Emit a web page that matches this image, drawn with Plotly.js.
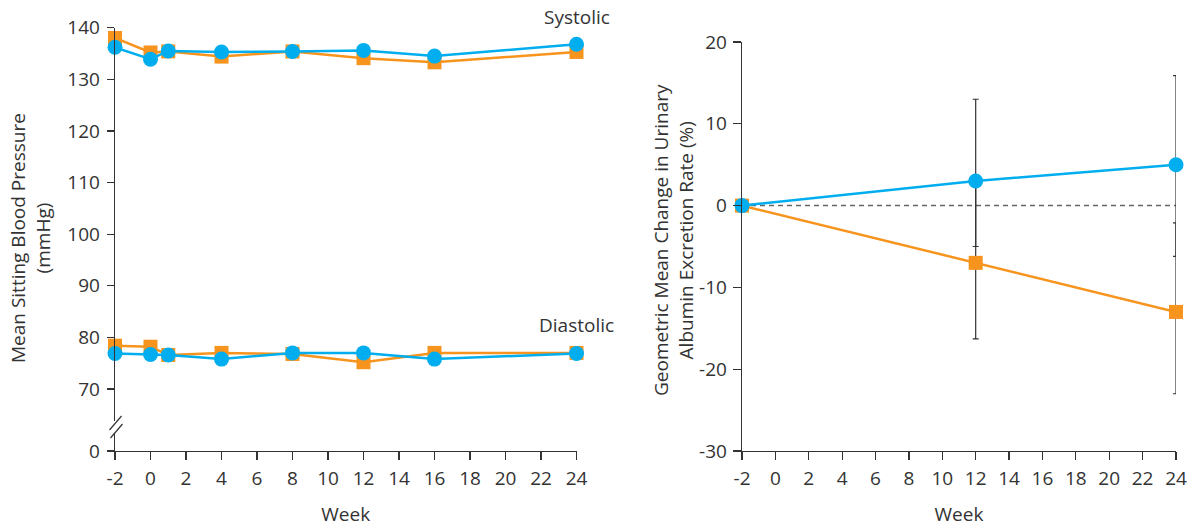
<!DOCTYPE html>
<html>
<head>
<meta charset="utf-8">
<script src="https://cdn.plot.ly/plotly-3.0.1.min.js"></script>
<style>html,body{margin:0;padding:0;background:#fff;}#chart{width:1196px;height:527px;}</style>
</head>
<body>
<div id="chart"></div>
<script>
// ---- Data ----
var bpWeeks = [-2, 0, 1, 4, 8, 12, 16, 24];
var systolicOrange = [138.0, 135.2, 135.4, 134.4, 135.4, 134.1, 133.3, 135.3];
var systolicBlue   = [136.2, 133.9, 135.5, 135.3, 135.4, 135.6, 134.5, 136.8];
var diastolicOrange = [78.4, 78.2, 76.6, 77.0, 76.8, 75.2, 77.0, 77.0];
var diastolicBlue   = [76.9, 76.7, 76.6, 75.8, 77.0, 77.0, 75.8, 76.9];

var uaerWeeks = [-2, 12, 24];
var uaerBlue = [0, 3, 5];
var uaerBlueUpper = [0, 10, 10.9];
var uaerBlueLower = [0, 8, 11.2];
var uaerOrange = [0, -7, -13];
var uaerOrangeUpper = [0, 10, 10.9];
var uaerOrangeLower = [0, 9.3, 10];

var xTicks = [-2, 0, 2, 4, 6, 8, 10, 12, 14, 16, 18, 20, 22, 24];
var xTickText = ["-2", "0", "2", "4", "6", "8", "10", "12", "14", "16", "18", "20", "22", "24"];
var bpTickVals = [58, 70, 80, 90, 100, 110, 120, 130, 140];
var bpTickText = ["0", "70", "80", "90", "100", "110", "120", "130", "140"];
var uaerTicks = [-30, -20, -10, 0, 10, 20];
var uaerTickText = ["-30", "-20", "-10", "0", "10", "20"];

// ---- Styles ----
var ORANGE = '#F7941D', BLUE = '#00AEEF', INK = '#333333';
var FONT = '"Open Sans", Lato, sans-serif';
var FS = 19;

function lineTrace(x, y, color, symbol, xa, ya, size) {
  return {x: x, y: y, xaxis: xa, yaxis: ya, type: 'scatter', mode: 'lines+markers',
    line: {color: color, width: 2.5},
    marker: {color: color, symbol: symbol, size: size},
    cliponaxis: false, hoverinfo: 'skip'};
}

var traces = [
  lineTrace(bpWeeks, systolicOrange, ORANGE, 'square', 'x', 'y', 14),
  lineTrace(bpWeeks, diastolicOrange, ORANGE, 'square', 'x', 'y', 14),
  lineTrace(bpWeeks, systolicBlue, BLUE, 'circle', 'x', 'y', 15),
  lineTrace(bpWeeks, diastolicBlue, BLUE, 'circle', 'x', 'y', 15)
];

var zeroTrace = {x: [xTicks[0], xTicks[xTicks.length - 1]], y: [0, 0], xaxis: 'x2', yaxis: 'y2',
  type: 'scatter', mode: 'lines', line: {color: '#666', width: 1.5, dash: '5px,4px'}, hoverinfo: 'skip'};
traces.push(zeroTrace);

var o = lineTrace(uaerWeeks, uaerOrange, ORANGE, 'square', 'x2', 'y2', 14);
o.error_y = {type: 'data', symmetric: false, array: uaerOrangeUpper, arrayminus: uaerOrangeLower,
  color: INK, thickness: 1.2, width: 3};
var b = lineTrace(uaerWeeks, uaerBlue, BLUE, 'circle', 'x2', 'y2', 15);
b.error_y = {type: 'data', symmetric: false, array: uaerBlueUpper, arrayminus: uaerBlueLower,
  color: INK, thickness: 1.2, width: 3};
traces.push(o, b);

function px(xp) { return xp / 1196; }
function py(yp) { return (527 - yp) / 527; }

var axisCommon = {showgrid: false, zeroline: false, showline: true, linecolor: INK, linewidth: 1.3,
  ticks: 'outside', ticklen: 8, tickwidth: 1.3, tickcolor: INK,
  tickfont: {family: FONT, size: FS, color: INK}, automargin: false, fixedrange: true};

var layout = {
  width: 1196, height: 527,
  margin: {l: 0, r: 0, t: 0, b: 0},
  paper_bgcolor: '#fff', plot_bgcolor: '#fff',
  showlegend: false,
  font: {family: FONT, color: INK},
  xaxis: Object.assign({}, axisCommon, {domain: [px(115), px(576.5)], range: [-2, 24],
    tickvals: xTicks, ticktext: xTickText, anchor: 'y', ticklabelstandoff: 2,
    title: {text: 'Week', font: {family: FONT, size: FS, color: INK}, standoff: 19}}),
  yaxis: Object.assign({}, axisCommon, {domain: [py(451), py(27.7)], range: [58, 140],
    tickvals: bpTickVals, ticktext: bpTickText, ticklen: 7, anchor: 'x', ticklabelstandoff: 3}),
  xaxis2: Object.assign({}, axisCommon, {domain: [px(742), px(1176)], range: [-2, 24],
    tickvals: xTicks, ticktext: xTickText, anchor: 'y2', ticklabelstandoff: 2,
    title: {text: 'Week', font: {family: FONT, size: FS, color: INK}, standoff: 19}}),
  yaxis2: Object.assign({}, axisCommon, {domain: [py(451), py(42)], range: [-30, 20],
    tickvals: uaerTicks, ticktext: uaerTickText, anchor: 'x2', ticklabelstandoff: 2}),
  annotations: [
    {xref: 'paper', yref: 'paper', x: px(612), y: py(17), xanchor: 'right', yanchor: 'middle',
      text: 'Systolic', showarrow: false, font: {family: FONT, size: FS, color: INK}},
    {xref: 'paper', yref: 'paper', x: px(616), y: py(325), xanchor: 'right', yanchor: 'middle',
      text: 'Diastolic', showarrow: false, font: {family: FONT, size: FS, color: INK}},
    {xref: 'paper', yref: 'paper', x: px(30), y: py(238), xanchor: 'center', yanchor: 'middle',
      textangle: -90, text: 'Mean Sitting Blood Pressure<br>(mmHg)', showarrow: false,
      font: {family: FONT, size: FS, color: INK}},
    {xref: 'paper', yref: 'paper', x: px(673), y: py(240), xanchor: 'center', yanchor: 'middle',
      textangle: -90, text: 'Geometric Mean Change in Urinary<br>Albumin Excretion Rate (%)', showarrow: false,
      font: {family: FONT, size: FS, color: INK}}
  ],
  shapes: [
    {type: 'rect', xref: 'paper', yref: 'paper', x0: px(112), x1: px(118), y0: py(433), y1: py(421),
      fillcolor: '#fff', line: {width: 0}, layer: 'above'},
    {type: 'line', xref: 'paper', yref: 'paper', x0: px(109.5), y0: py(430), x1: px(121.5), y1: py(416),
      line: {color: INK, width: 1.2}, layer: 'above'},
    {type: 'line', xref: 'paper', yref: 'paper', x0: px(110.5), y0: py(438), x1: px(122.5), y1: py(424),
      line: {color: INK, width: 1.2}, layer: 'above'}
  ]
};

Plotly.newPlot('chart', traces, layout, {displayModeBar: false, staticPlot: true});
</script>
</body>
</html>
